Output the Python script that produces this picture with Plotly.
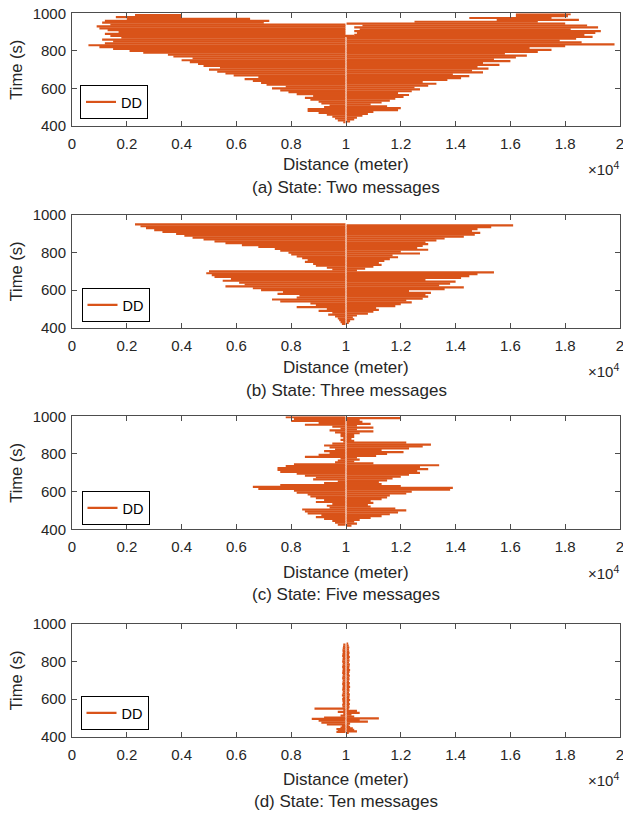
import plotly.graph_objects as go

# ---------------- data ----------------
center_distance = 10000

x_tickvals = [0, 2000, 4000, 6000, 8000, 10000, 12000, 14000, 16000, 18000, 20000]
x_ticktext = ["0", "0.2", "0.4", "0.6", "0.8", "1", "1.2", "1.4", "1.6", "1.8", "2"]
y_tickvals = [400, 600, 800, 1000]
y_ticktext = ["400", "600", "800", "1000"]

captions = ["(a) State: Two messages", "(b) State: Three messages",
            "(c) State: Five messages", "(d) State: Ten messages"]

# (a) Two messages: time of each excursion and its outer distance
a_time = [420, 425, 430, 435, 440, 445, 450, 455, 460, 465, 470, 475, 480, 485, 490, 495,
          500, 505, 510, 515, 520, 525, 530, 535, 540, 545, 550, 555, 560, 565, 570, 575,
          580, 585, 590, 595, 600, 605, 610, 615, 620, 625, 630, 635, 640, 645, 650, 655,
          660, 665, 670, 675, 680, 685, 690, 695, 700, 705, 710, 715, 720, 725, 730, 735,
          740, 745, 750, 755, 760, 765, 770, 775, 780, 785, 790, 795, 800, 805, 810, 815,
          820, 825, 830, 835, 840, 845, 850, 855, 860, 865, 870, 875, 880, 885, 890, 895,
          900, 905, 910, 915, 920, 925, 930, 935, 940, 945, 950, 955, 960, 965, 970, 975,
          980, 985, 990, 995]
a_outer = [9900, 10150, 9700, 10300, 9600, 10400, 9500, 10600, 9300, 10800, 9000, 11000, 8600, 11900, 8600, 12000,
           9200, 11500, 9400, 10900, 9100, 11300, 9000, 11600, 8700, 11800, 8500, 12100, 8800, 12300, 8200, 11900,
           7900, 12400, 7600, 12700, 7300, 12500, 7800, 13000, 7100, 13300, 6900, 12800, 6600, 13700, 6300, 14200,
           6800, 14500, 5900, 13900, 5600, 15000, 5300, 14600, 5000, 15200, 5400, 14800, 4800, 15600, 4600, 15000,
           4300, 16000, 4000, 15400, 4400, 16200, 3700, 16600, 3500, 15800, 2600, 17000, 2100, 17500, 1500, 16700,
           1000, 18000, 600, 19800, 1200, 18600, 1500, 17800, 1100, 18400, 1800, 19000, 1400, 18700, 1200, 19100,
           1700, 19300, 1300, 18200, 1000, 19200, 900, 18800, 1400, 18000, 1100, 17000, 1200, 18500, 2000, 17500,
           1600, 18100, 2300, 18200]
a_inner_override = {880: 10300, 885: 10300, 895: 10400, 905: 10300, 915: 10500, 925: 10300,
                    935: 10600, 950: 7000, 955: 12500, 960: 7200, 965: 15500, 970: 6500,
                    975: 14500, 980: 4000, 985: 16200, 990: 4000, 995: 16200}

# (b) Three messages
b_time = [420, 425, 430, 435, 440, 445, 450, 455, 460, 465, 470, 475, 480, 485, 490, 495,
          500, 505, 510, 515, 520, 525, 530, 535, 540, 545, 550, 555, 560, 565, 570, 575,
          580, 585, 590, 595, 600, 605, 610, 615, 620, 625, 630, 635, 640, 645, 650, 655,
          660, 665, 670, 675, 680, 685, 690, 695, 700, 705, 710, 715, 720, 725, 730, 735,
          740, 745, 750, 755, 760, 765, 770, 775, 780, 785, 790, 795, 800, 805, 810, 815,
          820, 825, 830, 835, 840, 845, 850, 855, 860, 865, 870, 875, 880, 885, 890, 895,
          900, 905, 910, 915, 920, 925, 930, 935, 940, 945, 950]
b_outer = [9850, 10100, 9800, 10150, 9750, 10300, 9700, 10250, 9600, 10400, 9350, 10800, 9500, 11000, 9000, 11200,
           9300, 11100, 8200, 11800, 8900, 12000, 8700, 12400, 7600, 12200, 7300, 12800, 8200, 13000, 8300, 12900,
           7500, 13100, 7700, 12300, 6900, 13600, 6600, 14300, 5600, 13400, 6300, 13800, 6100, 14000, 5500, 12900,
           5800, 14200, 5200, 14500, 5100, 14800, 4900, 15400, 5000, 10400, 9500, 10700, 9300, 11000, 8900, 11300,
           8800, 11200, 8500, 11400, 8600, 11600, 8400, 11900, 8200, 11700, 8000, 12700, 7900, 12000, 7600, 13000,
           7400, 12600, 6800, 12800, 6200, 13000, 5600, 12900, 5200, 13300, 4800, 13600, 4400, 14300, 4100, 14700,
           3800, 14900, 3300, 14600, 3000, 14800, 2700, 15300, 2500, 16100, 2300]
b_inner_override = {}

# (c) Five messages
c_time = [420, 425, 430, 435, 440, 445, 450, 455, 460, 465, 470, 475, 480, 485, 490, 495,
          500, 505, 510, 515, 520, 525, 530, 535, 540, 545, 550, 555, 560, 565, 570, 575,
          580, 585, 590, 595, 600, 605, 610, 615, 620, 625, 630, 635, 640, 645, 650, 655,
          660, 665, 670, 675, 680, 685, 690, 695, 700, 705, 710, 715, 720, 725, 730, 735,
          740, 745, 750, 755, 760, 765, 770, 775, 780, 785, 790, 795, 800, 805, 810, 815,
          820, 825, 830, 835, 840, 845, 850, 855, 860, 865, 870, 875, 880, 885, 890, 895,
          900, 905, 910, 915, 920, 925, 930, 935, 940, 945, 950, 955, 960, 965, 970, 975,
          980, 985, 990, 995]
c_outer = [10200, 9700, 10400, 9600, 10300, 9500, 10500, 9200, 10900, 8900, 11300, 9100, 11600, 8600, 11900, 8500,
           12200, 8400, 11800, 9400, 10900, 9300, 10800, 9500, 11000, 8900, 10900, 9200, 11300, 8900, 11500, 8700,
           11600, 8600, 12200, 8200, 12400, 8100, 13800, 6800, 13900, 6600, 12000, 7600, 11300, 9200, 11200, 9700,
           11500, 8800, 11700, 8900, 12000, 8500, 12300, 8200, 12700, 7600, 12600, 7500, 13000, 7500, 12700, 7800,
           13400, 8100, 11000, 9600, 10300, 9700, 10500, 9800, 10400, 8500, 11100, 9000, 11500, 9400, 12100, 9200,
           11300, 9600, 12300, 9400, 12800, 9200, 13100, 9500, 12200, 9900, 10300, 9800, 10200, 9900, 10300, 9800,
           10300, 9800, 10500, 9600, 11000, 9400, 10400, 9800, 11000, 9500, 10400, 8500, 10900, 9000, 10600, 8000,
           10500, 8100, 12000, 7800]
c_inner_override = {}

# (d) Ten messages
d_time = [420, 425, 428, 432, 436, 440, 444, 448, 452, 456, 460, 465, 470, 475, 480, 485,
          490, 495, 498, 502, 507, 512, 517, 522, 527, 532, 537, 542, 547, 550, 556, 560,
          565, 570, 575, 580, 585, 590, 595, 600, 605, 610, 615, 620, 625, 630, 635, 640,
          645, 650, 655, 660, 665, 670, 675, 680, 685, 690, 695, 700, 705, 710, 715, 720,
          725, 730, 735, 740, 745, 750, 755, 760, 765, 770, 775, 780, 785, 790, 795, 800,
          805, 810, 815, 820, 825, 830, 835, 840, 845, 850, 855, 860, 865, 870, 875, 880,
          885, 890, 895]
d_outer = [10100, 9650, 10400, 9700, 10300, 9650, 10250, 9800, 10150, 9850, 10100, 9300, 10150, 9100, 10800, 9000,
           10500, 8750, 11200, 9200, 10300, 9800, 10200, 9900, 10500, 9700, 10400, 9900, 10100, 8850, 10130, 9870,
           10120, 9860, 10140, 9880, 10110, 9870, 10150, 9860, 10120, 9880, 10130, 9850, 10140, 9870, 10110, 9880,
           10130, 9860, 10120, 9870, 10150, 9880, 10120, 9860, 10140, 9870, 10110, 9880, 10130, 9860, 10120, 9870,
           10140, 9880, 10110, 9860, 10130, 9870, 10150, 9880, 10120, 9860, 10130, 9870, 10140, 9880, 10110, 9860,
           10130, 9870, 10120, 9880, 10140, 9860, 10110, 9870, 10130, 9880, 10120, 9870, 10110, 9880, 10120, 9890,
           10100, 9900, 10080]
d_inner_override = {}

panels = [(a_time, a_outer, a_inner_override),
          (b_time, b_outer, b_inner_override),
          (c_time, c_outer, c_inner_override),
          (d_time, d_outer, d_inner_override)]

# ---------------- styling / layout ----------------
W, H = 623, 814
LINE_COLOR = "#D95319"
AX_COLOR = "#4d4d4d"
TXT_COLOR = "#262626"
FONT = "Liberation Sans, Arial, Helvetica, sans-serif"
GAP = 20  # half-width of the thin white strip at the centre

plot_left, plot_right = 72, 620
tops = [13.3, 215, 416.3, 624]
bottoms = [126, 327.7, 529.3, 736.7]
xlabel_y = [164, 367, 572, 779]
caption_y = [187, 390, 594, 801]
legend_pos = [(80, 119), (81.5, 322), (81.5, 525), (80.5, 730)]


def px(x):
    return x / W


def py(y):
    return 1 - y / H


def build_path(times, outers, overrides):
    xs, ys = [], []
    for t, o in zip(times, outers):
        if t in overrides:
            inner = overrides[t]
        else:
            inner = center_distance - GAP if o < center_distance else center_distance + GAP
        xs += [inner, o, None]
        ys += [t, t, None]
    return xs, ys


fig = go.Figure()
annotations = []
layout_axes = {}

for i, (times, outers, ov) in enumerate(panels):
    n = "" if i == 0 else str(i + 1)
    xs, ys = build_path(times, outers, ov)
    fig.add_trace(go.Scatter(
        x=xs, y=ys, mode="lines", name="DD",
        line=dict(color=LINE_COLOR, width=2.2),
        xaxis="x" + n, yaxis="y" + n,
        legend="legend" + n, showlegend=True, connectgaps=False,
    ))
    axis_common = dict(
        showline=True, linecolor=AX_COLOR, linewidth=1, mirror="allticks",
        ticks="inside", ticklen=5, tickcolor=AX_COLOR, tickwidth=1,
        showgrid=False, zeroline=False, automargin=False,
        ticklabeloverflow="allow",
        tickfont=dict(family=FONT, size=15, color=TXT_COLOR),
    )
    layout_axes["xaxis" + n] = dict(
        axis_common, domain=[px(plot_left), px(plot_right)], range=[0, 20000],
        tickmode="array", tickvals=x_tickvals, ticktext=x_ticktext,
        anchor="y" + n, ticklabelstandoff=4,
    )
    layout_axes["yaxis" + n] = dict(
        axis_common, domain=[py(bottoms[i]), py(tops[i])], range=[400, 1000],
        tickmode="array", tickvals=y_tickvals, ticktext=y_ticktext,
        anchor="x" + n, ticklabelstandoff=2,
    )
    lx, ly = legend_pos[i]
    layout_axes["legend" + n] = dict(
        x=px(lx), y=py(ly), xanchor="left", yanchor="bottom",
        xref="paper", yref="paper",
        bordercolor="#000000", borderwidth=1, bgcolor="white",
        font=dict(family=FONT, size=14.5, color="#000000"),
        itemwidth=30, tracegroupgap=0,
    )
    cy = (tops[i] + bottoms[i]) / 2
    cx = (plot_left + plot_right) / 2
    annotations += [
        dict(text="Time (s)", x=px(16), y=py(cy), xref="paper", yref="paper",
             textangle=-90, showarrow=False, xanchor="center", yanchor="middle",
             font=dict(family=FONT, size=16.5, color=TXT_COLOR)),
        dict(text="Distance (meter)", x=px(cx), y=py(xlabel_y[i]), xref="paper", yref="paper",
             showarrow=False, xanchor="center", yanchor="middle",
             font=dict(family=FONT, size=17, color=TXT_COLOR)),
        dict(text="\u00d710<sup>4</sup>", x=px(plot_right + 1), y=py(bottoms[i] + 43),
             xref="paper", yref="paper", showarrow=False, xanchor="right", yanchor="middle",
             font=dict(family=FONT, size=15, color=TXT_COLOR)),
        dict(text=captions[i], x=px(cx), y=py(caption_y[i]), xref="paper", yref="paper",
             showarrow=False, xanchor="center", yanchor="middle",
             font=dict(family=FONT, size=17, color=TXT_COLOR)),
    ]

fig.update_layout(
    width=W, height=H, margin=dict(l=0, r=0, t=0, b=0, autoexpand=False),
    paper_bgcolor="white", plot_bgcolor="white",
    annotations=annotations, showlegend=True,
    **layout_axes,
)

fig.write_html(
    "out.html",
    config={"displayModeBar": False},
    post_script="document.body.style.margin='0';document.body.style.overflow='hidden';",
)
